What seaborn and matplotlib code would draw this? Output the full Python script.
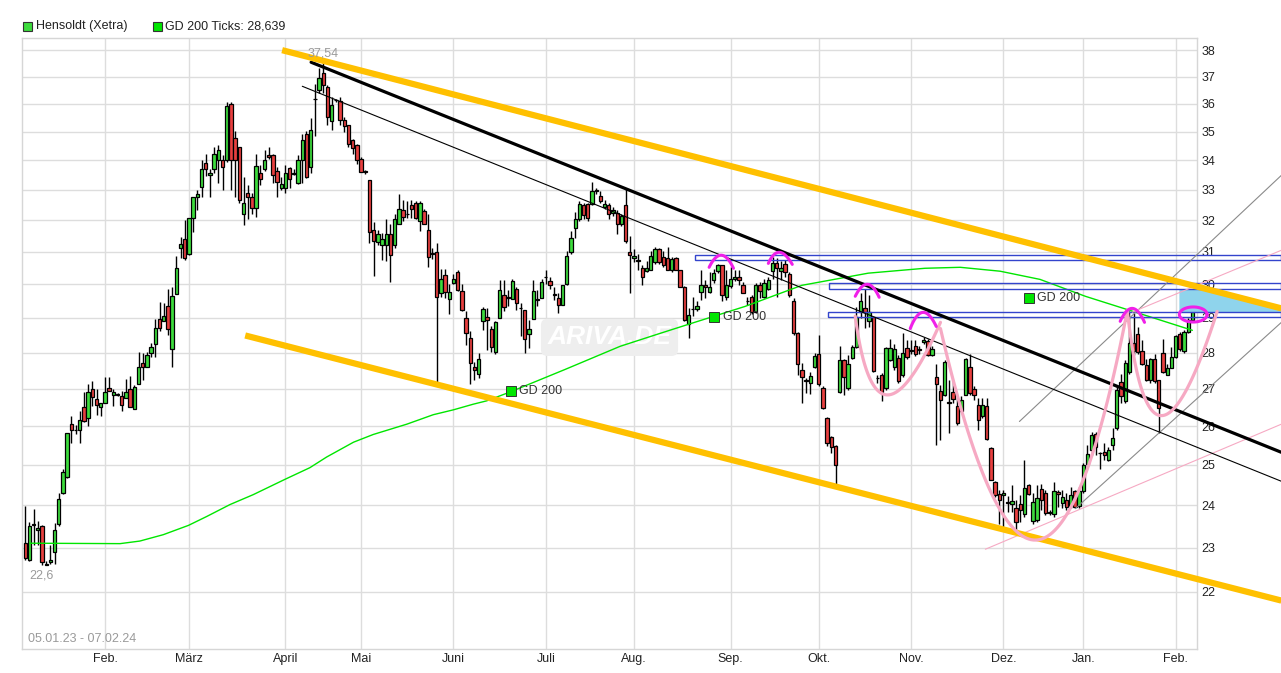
import numpy as np
import pandas as pd
import matplotlib
matplotlib.use("Agg")
import matplotlib.pyplot as plt
import seaborn as sns
from matplotlib.patches import Rectangle

# daily candles Hensoldt (Xetra), 05.01.23 - 07.02.24
opens = [
    23.10, 22.71, 23.55, 23.42, 23.50, 22.63, 22.66, 22.90, 23.55, 24.30,
    24.70, 26.06, 25.90, 25.91, 26.50, 26.22, 27.00, 26.71, 26.50, 26.61,
    27.03, 26.83, 26.84, 26.80, 26.74, 27.00, 26.45, 27.14, 27.70, 27.59,
    28.00, 28.24, 28.98, 28.91, 29.34, 28.10, 29.72, 31.12, 31.40, 30.92,
    32.09, 32.77, 33.09, 33.92, 33.49, 33.69, 34.00, 34.00, 34.00, 36.00,
    34.77, 34.46, 32.20, 32.89, 32.78, 32.39, 33.56, 33.69, 34.17, 34.17,
    33.64, 33.06, 33.08, 33.74, 33.54, 33.22, 34.00, 34.92, 33.76, 36.18,
    36.50, 37.13, 36.62, 35.37, 36.12, 36.11, 35.43, 35.22, 34.69, 34.54,
    34.06, 33.62, 33.33, 31.70, 31.30, 31.20, 31.20, 31.57, 31.20, 31.87,
    32.33, 32.22, 32.50, 32.56, 31.98, 32.30, 31.68, 30.95, 31.00, 29.73,
    30.28, 29.55, 30.04, 30.39, 29.80, 29.00, 28.42, 27.59, 27.40, 28.91,
    29.02, 28.68, 28.03, 29.00, 29.68, 29.61, 29.55, 29.87, 29.30, 29.24,
    28.53, 28.97, 29.56, 29.60, 30.23, 30.09, 29.71, 29.58, 29.39, 30.00,
    30.98, 31.77, 32.03, 32.50, 32.52, 32.53, 32.98, 32.81, 32.44, 32.50,
    32.23, 32.23, 31.87, 32.50, 31.01, 30.81, 30.74, 30.50, 30.40, 30.43,
    30.68, 31.10, 30.85, 30.80, 30.43, 30.81, 30.43, 29.93, 28.83, 29.25,
    29.27, 29.78, 29.98, 29.78, 30.13, 30.41, 30.58, 29.61, 29.95, 30.16,
    30.23, 29.98, 29.50, 29.61, 29.17, 29.99, 29.61, 29.87, 30.41, 30.66,
    30.41, 30.61, 30.31, 29.50, 28.55, 27.51, 27.23, 27.15, 27.59, 27.96,
    27.02, 26.21, 25.71, 25.49, 26.91, 27.80, 27.02, 27.86, 28.16, 29.16,
    29.28, 28.92, 29.02, 27.30, 27.38, 27.02, 27.78, 27.59, 27.86, 27.38,
    28.14, 28.07, 28.19, 28.09, 28.30, 28.32, 27.94, 27.32, 26.93, 26.84,
    26.64, 26.91, 26.52, 26.41, 26.84, 27.59, 26.99, 26.57, 26.27, 26.52,
    25.43, 24.58, 24.28, 24.25, 24.07, 24.04, 23.93, 24.04, 23.80, 24.50,
    23.63, 23.65, 24.39, 24.31, 23.83, 23.80, 24.33, 24.06, 24.13, 23.99,
    24.34, 23.99, 24.34, 25.02, 25.37, 25.80, 25.31, 25.34, 25.13, 25.51,
    25.94, 27.17, 26.66, 27.46, 28.27, 28.52, 28.06, 27.64, 27.24, 27.82,
    27.24, 27.99, 27.38, 27.56, 27.87, 28.53, 28.05, 28.60, 28.95,
]
highs = [
    23.98, 23.60, 23.90, 23.62, 23.54, 22.70, 23.06, 23.58, 24.30, 24.89,
    25.83, 26.26, 26.04, 26.39, 26.91, 27.14, 27.20, 27.00, 26.61, 27.33,
    27.33, 27.00, 26.88, 26.95, 27.27, 27.35, 27.10, 28.03, 28.00, 28.03,
    28.27, 28.96, 29.48, 29.45, 29.85, 29.91, 30.88, 31.48, 32.02, 32.09,
    32.75, 33.00, 34.02, 34.23, 33.72, 34.46, 34.52, 34.17, 36.05, 36.08,
    35.04, 34.46, 33.44, 33.17, 32.89, 34.23, 33.83, 34.34, 34.46, 34.23,
    33.78, 33.44, 33.83, 33.78, 33.72, 34.17, 34.92, 35.04, 35.47, 36.74,
    37.33, 37.54, 36.68, 36.26, 36.18, 36.26, 35.53, 35.22, 34.75, 34.57,
    34.11, 33.66, 33.33, 31.95, 31.70, 31.60, 32.03, 31.87, 32.21, 32.87,
    32.67, 32.62, 32.65, 32.62, 32.62, 32.38, 32.21, 31.13, 31.29, 30.47,
    30.47, 30.02, 30.32, 30.44, 30.02, 29.19, 28.61, 27.75, 27.98, 29.31,
    29.29, 28.76, 28.90, 30.14, 30.14, 29.83, 30.17, 29.92, 29.44, 29.24,
    28.95, 30.12, 29.83, 30.17, 30.44, 30.22, 29.92, 29.73, 29.99, 31.03,
    31.66, 32.27, 32.62, 32.56, 32.56, 33.26, 33.05, 32.97, 32.67, 32.56,
    32.44, 32.33, 32.21, 33.02, 31.51, 31.08, 30.93, 30.58, 30.73, 31.03,
    31.14, 31.12, 31.03, 31.14, 30.83, 30.83, 30.45, 29.95, 29.29, 29.63,
    29.49, 30.43, 30.13, 30.38, 30.48, 30.63, 30.60, 30.43, 30.53, 30.43,
    30.43, 30.08, 29.63, 29.68, 30.04, 30.07, 30.17, 30.22, 30.85, 30.80,
    30.71, 30.76, 30.39, 29.58, 28.58, 27.72, 27.29, 27.47, 28.00, 28.50,
    27.06, 26.23, 25.73, 25.51, 28.19, 27.83, 27.92, 28.21, 29.33, 29.73,
    29.87, 29.68, 29.04, 27.38, 27.42, 28.16, 28.40, 28.25, 27.92, 28.55,
    28.35, 28.35, 28.35, 28.20, 28.45, 28.40, 28.20, 27.69, 27.11, 27.78,
    27.24, 27.24, 26.75, 26.79, 27.86, 27.95, 27.06, 26.75, 26.75, 26.75,
    25.45, 24.60, 24.38, 24.38, 24.23, 24.50, 24.13, 24.25, 25.13, 24.53,
    24.29, 24.50, 24.53, 24.38, 23.88, 24.58, 24.38, 24.38, 24.29, 24.46,
    24.38, 24.46, 25.04, 25.51, 25.85, 25.85, 25.34, 25.55, 25.45, 25.94,
    27.06, 27.39, 27.78, 29.20, 29.13, 28.73, 28.35, 27.82, 27.85, 27.96,
    27.24, 28.40, 27.69, 28.16, 28.50, 28.60, 28.65, 29.00, 29.52,
]
lows = [
    22.71, 22.70, 23.06, 23.06, 22.60, 22.60, 22.62, 22.62, 23.50, 24.27,
    24.68, 25.57, 25.79, 25.57, 26.10, 26.00, 26.52, 26.30, 26.26, 26.61,
    26.93, 26.52, 26.80, 26.39, 26.74, 26.50, 26.45, 27.14, 27.25, 27.59,
    27.89, 27.89, 28.62, 28.91, 28.49, 27.59, 29.72, 30.81, 30.76, 30.90,
    31.64, 32.33, 32.77, 33.48, 32.78, 33.56, 33.22, 33.00, 33.95, 33.00,
    32.78, 32.56, 31.85, 32.06, 32.22, 32.11, 33.17, 33.65, 34.05, 33.22,
    32.78, 33.00, 32.89, 33.06, 33.50, 33.20, 33.22, 33.40, 33.56, 34.85,
    36.38, 36.38, 35.22, 35.07, 36.05, 35.22, 34.98, 34.46, 34.23, 33.89,
    33.61, 33.55, 31.28, 30.25, 31.20, 30.75, 30.72, 30.07, 31.13, 31.87,
    31.98, 32.09, 32.09, 32.04, 31.66, 31.87, 30.52, 30.77, 27.19, 29.63,
    29.58, 29.10, 30.00, 29.80, 29.19, 28.22, 27.14, 27.23, 27.28, 28.66,
    28.08, 28.03, 27.96, 29.00, 29.19, 29.34, 29.55, 29.24, 28.47, 28.00,
    28.13, 28.97, 29.34, 29.60, 30.02, 29.87, 29.53, 29.15, 29.39, 29.98,
    30.93, 31.45, 31.98, 32.03, 31.98, 32.50, 32.85, 32.56, 32.38, 32.03,
    32.15, 31.56, 31.82, 31.29, 29.74, 30.68, 30.43, 29.98, 30.38, 30.43,
    30.63, 30.63, 30.53, 30.43, 30.38, 30.43, 29.93, 28.90, 28.43, 29.05,
    29.20, 29.53, 29.59, 29.75, 30.03, 30.33, 29.49, 29.54, 29.88, 30.10,
    29.98, 29.73, 29.38, 29.12, 29.15, 29.58, 29.58, 29.82, 30.17, 29.63,
    30.12, 30.22, 29.63, 28.50, 27.38, 26.61, 26.88, 26.86, 27.56, 27.06,
    26.46, 25.47, 25.30, 24.50, 26.88, 26.84, 26.97, 27.83, 28.14, 28.99,
    28.70, 28.73, 27.47, 27.15, 26.66, 26.97, 27.77, 27.51, 27.15, 27.33,
    27.83, 27.96, 27.90, 27.95, 28.25, 27.90, 27.90, 25.51, 25.64, 26.79,
    25.81, 26.61, 26.03, 26.36, 26.84, 26.84, 26.70, 25.90, 26.20, 25.64,
    24.61, 24.21, 23.55, 23.47, 23.85, 23.85, 23.35, 23.60, 23.72, 24.25,
    23.55, 23.60, 23.88, 23.77, 23.77, 23.72, 23.97, 23.93, 23.88, 23.93,
    23.93, 23.93, 24.29, 24.96, 25.26, 25.26, 24.90, 25.13, 25.10, 25.38,
    25.90, 26.61, 26.60, 27.41, 27.92, 27.96, 27.64, 27.20, 27.15, 27.15,
    25.83, 27.44, 27.38, 27.56, 27.85, 28.06, 27.98, 28.55, 28.90,
]
closes = [
    22.75, 23.50, 23.53, 23.46, 22.67, 22.60, 22.71, 23.42, 24.15, 24.81,
    25.83, 25.89, 25.89, 26.17, 26.13, 26.90, 26.78, 26.56, 26.61, 26.90,
    26.95, 26.92, 26.85, 26.56, 26.90, 26.50, 27.05, 27.59, 27.59, 27.93,
    28.15, 28.70, 28.71, 29.06, 28.67, 29.64, 30.49, 31.25, 30.81, 32.09,
    32.75, 32.85, 33.69, 33.71, 33.58, 34.23, 34.37, 33.78, 35.90, 34.00,
    34.00, 32.67, 32.58, 32.76, 32.39, 33.81, 33.36, 34.02, 34.11, 33.50,
    33.26, 33.19, 33.58, 33.37, 33.56, 34.00, 34.71, 33.44, 35.06, 36.16,
    36.95, 36.68, 35.53, 35.96, 36.14, 35.43, 35.19, 34.57, 34.44, 34.00,
    33.61, 33.60, 31.64, 31.35, 31.55, 31.40, 31.57, 30.90, 32.03, 32.38,
    32.12, 32.20, 32.38, 32.07, 32.58, 31.87, 30.84, 30.93, 29.61, 30.17,
    29.78, 29.78, 30.16, 29.83, 29.24, 28.56, 27.72, 27.51, 27.81, 29.27,
    28.95, 28.16, 28.88, 29.83, 29.32, 29.60, 30.09, 29.44, 29.28, 28.39,
    28.68, 29.80, 29.54, 30.07, 30.21, 29.99, 29.69, 29.39, 29.99, 30.88,
    31.45, 32.03, 32.52, 32.17, 32.07, 32.97, 32.99, 32.64, 32.53, 32.21,
    32.35, 31.87, 32.13, 31.35, 30.90, 30.88, 30.72, 30.21, 30.51, 30.88,
    31.08, 30.68, 30.58, 30.43, 30.78, 30.43, 29.93, 28.95, 29.08, 29.27,
    29.34, 29.98, 29.91, 29.93, 30.33, 30.58, 29.69, 29.98, 30.15, 30.23,
    30.13, 29.75, 29.49, 29.17, 29.99, 29.80, 30.05, 30.14, 30.66, 30.51,
    30.51, 30.39, 29.68, 28.55, 27.67, 27.32, 27.21, 27.35, 27.90, 27.14,
    26.48, 25.56, 25.45, 24.99, 27.78, 27.31, 27.69, 28.16, 29.02, 29.50,
    29.16, 29.16, 27.49, 27.28, 26.91, 28.14, 28.14, 28.11, 27.20, 27.99,
    27.87, 28.05, 27.96, 28.07, 28.35, 27.94, 28.10, 27.13, 26.69, 27.74,
    26.62, 26.73, 26.07, 26.70, 27.83, 26.88, 26.84, 26.16, 26.55, 25.66,
    24.63, 24.25, 24.13, 24.29, 24.05, 24.11, 23.60, 23.88, 24.42, 24.28,
    24.08, 24.17, 24.14, 23.82, 23.82, 24.36, 24.28, 24.20, 23.95, 24.24,
    23.97, 24.34, 25.00, 25.27, 25.77, 25.45, 25.30, 25.26, 25.37, 25.68,
    26.97, 26.79, 27.71, 28.27, 28.06, 28.01, 27.69, 27.24, 27.82, 27.20,
    26.47, 27.47, 27.56, 27.87, 28.48, 28.11, 28.60, 28.95, 29.16,
]

# 200-day average, read at points along the curve (trading-day index, value)
gd_idx = [1.1, 22.6, 27.3, 32.9, 38.9, 43.2, 48.8, 54.3, 61.9, 67.8,
          71.8, 78.2, 82.9, 90.9, 97.2, 102.0, 106.7, 109.9, 115.5, 128.6,
          141.7, 151.2, 157.9, 171.5, 185.0, 200.8, 214.3, 222.7, 232.2, 241.7,
          252.5, 264.4, 278.0]
gd_val = [23.10, 23.09, 23.15, 23.30, 23.52, 23.73, 24.02, 24.26, 24.64, 24.93,
          25.20, 25.58, 25.78, 26.05, 26.30, 26.43, 26.58, 26.67, 26.91, 27.53,
          28.18, 28.55, 28.81, 29.34, 29.97, 30.34, 30.49, 30.52, 30.40, 30.15,
          29.64, 29.17, 28.639]
gd_label_idx = [115.6, 164.1, 239.1]
gd_label_val = [26.93, 29.02, 29.58]

holidays = ["2023-04-07", "2023-04-10", "2023-05-01", "2023-12-25", "2023-12-26", "2024-01-01"]
month_names = ["Feb.", "März", "April", "Mai", "Juni", "Juli", "Aug.", "Sep.",
               "Okt.", "Nov.", "Dez.", "Jan.", "Feb."]
price_ticks = list(range(22, 39))

# drawn analysis: lines as (index, price) end points
upper_chan = ([61.2, 299.2], [38.0, 29.28])
lower_chan = ([52.4, 299.2], [28.49, 21.80])
trend_thick = ([68.1, 299.2], [37.54, 25.32])
trend_thin = ([66.0, 299.2], [36.64, 24.59])
grey_lines = [([236.8, 299.2], [26.12, 33.49]), ([250.1, 299.2], [23.92, 28.87])]
pink_lines = [([228.7, 299.2], [22.96, 26.05]), ([263.7, 299.2], [29.17, 31.05])]
zones = [(159.6, 30.74, 30.89), (191.5, 29.85, 30.03), (191.3, 29.02, 29.17)]
zone_end = 299.2
target_fill = ([274.9, 281.6, 299.2, 299.2, 274.9], [29.85, 29.85, 29.28, 29.17, 29.17])
cups = [
    [(197.7, 29.05), (202.5, 24.86), (218.0, 28.87)],
    [(218.0, 28.69), (241.8, 18.55), (262.5, 29.22)],
    [(262.5, 29.22), (268.0, 23.64), (283.9, 29.19)],
]
caps = [
    [(162.9, 30.52), (165.8, 31.29), (168.7, 30.49)],
    [(177.0, 30.64), (179.4, 31.35), (182.7, 30.61)],
    [(197.7, 29.64), (200.6, 30.38), (203.4, 29.61)],
    [(210.8, 28.69), (213.7, 29.61), (217.0, 28.75)],
    [(260.8, 28.90), (263.7, 29.68), (266.6, 28.87)],
]
ring = (278.2, 29.10)

GREEN = "#3ddc3d"
RED = "#e8403f"
GD_GREEN = "#00e600"
ORANGE = "#ffc000"
MAGENTA = "#f020e8"
PINK = "#f6a9c3"
BLUE = "#3344cc"


def qcurve(pts, num=80):
    # quadratic bezier, straight in screen space (log price)
    t = np.linspace(0, 1, num)[:, None]
    p = np.array(pts, dtype=float)
    p[:, 1] = np.log(p[:, 1])
    b = (1 - t) ** 2 * p[0] + 2 * t * (1 - t) * p[1] + t ** 2 * p[2]
    return b[:, 0], np.exp(b[:, 1])


sns.set_style("white")
plt.rcParams["font.family"] = ["Liberation Sans", "DejaVu Sans"]

dates = pd.bdate_range("2023-01-05", "2024-02-07", freq="C", holidays=holidays)
n = len(closes)
dates = dates[:n]
x = np.arange(n)
o = np.array(opens)
h = np.array(highs)
lo = np.array(lows)
c = np.array(closes)

pos = pd.Series(np.arange(len(dates)), index=dates)
month_pos = pos.groupby(dates.to_period("M")).first().values[1:]

fig = plt.figure(figsize=(12.81, 6.73), dpi=100)
ax = fig.add_axes([22 / 1281, 24 / 673, 1175 / 1281, 611 / 673])
ax.set_yscale("log")

# watermark
ax.text(0.5, 0.51, "ARIVA.DE", transform=ax.transAxes, ha="center", va="center",
        fontsize=19, fontweight="bold", style="italic", color="white", zorder=1,
        bbox=dict(boxstyle="round,pad=0.25", fc="#eeeeee", ec="none"))

# candles
ax.vlines(x, lo, h, color="black", linewidth=1.0, zorder=3)
body_col = np.where(c >= o, GREEN, RED)
ax.bar(x, np.abs(c - o), bottom=np.minimum(o, c), width=0.8, color=body_col,
       edgecolor="black", linewidth=0.9, zorder=4)

# GD 200
sns.lineplot(x=gd_idx, y=gd_val, ax=ax, color=GD_GREEN, linewidth=1.0, zorder=5)
for gx, gy in zip(gd_label_idx, gd_label_val):
    ax.plot(gx, gy, marker="s", ms=7, mfc=GD_GREEN, mec="#333333", mew=0.7, zorder=9)
    ax.annotate("GD 200", (gx, gy), xytext=(6, 0), textcoords="offset points",
                va="center", ha="left", fontsize=9, color="#333333", zorder=9)

# zones and target area
ax.fill(target_fill[0], target_fill[1], color="#8fd4ec", lw=0, zorder=5, clip_on=False)
for x0, y0, y1 in zones:
    ax.add_patch(Rectangle((x0, y0), zone_end - x0, y1 - y0, fill=False, ec=BLUE,
                           lw=1.0, zorder=6, clip_on=False))

# trend lines
for xs, ys in grey_lines:
    ax.plot(xs, ys, color="#8a8a8a", lw=0.8, zorder=6, clip_on=False)
for xs, ys in pink_lines:
    ax.plot(xs, ys, color=PINK, lw=0.8, zorder=6, clip_on=False)
ax.plot(*trend_thin, color="black", lw=0.8, zorder=7, clip_on=False)
ax.plot(*trend_thick, color="black", lw=2.3, zorder=7, clip_on=False)
ax.plot(*upper_chan, color=ORANGE, lw=4.5, zorder=7, clip_on=False, solid_capstyle="butt")
ax.plot(*lower_chan, color=ORANGE, lw=4.5, zorder=7, clip_on=False, solid_capstyle="butt")

for cup in cups:
    cx, cy = qcurve(cup)
    ax.plot(cx, cy, color=PINK, lw=2.3, zorder=7, clip_on=False)
for cap in caps:
    cx, cy = qcurve(cap, 30)
    ax.plot(cx, cy, color=MAGENTA, lw=2.2, zorder=8)
t = np.linspace(0, 2 * np.pi, 100)
ax.plot(ring[0] + 3.3 * np.cos(t), ring[1] * np.exp(0.0076 * np.sin(t)),
        color=MAGENTA, lw=2.2, zorder=8, clip_on=False)

# high / low marks
imax = int(np.argmax(h))
imin = int(np.argmin(lo))
ax.annotate(f"{h[imax]:g}".replace(".", ","), (imax, h[imax]), xytext=(0, 2),
            textcoords="offset points", ha="center", va="bottom", fontsize=9,
            color="#9a9a9a", zorder=9)
ax.annotate(f"{lo[imin]:g}".replace(".", ","), (imin, lo[imin]), xytext=(0, -3),
            textcoords="offset points", ha="center", va="top", fontsize=9,
            color="#9a9a9a", zorder=9)
ax.text(0.005, 0.017, f"{dates[0]:%d.%m.%y} - {dates[-1]:%d.%m.%y}",
        transform=ax.transAxes, fontsize=9, color="#9a9a9a", va="center")

# axes
ax.set_xlim(-0.76, 279.1)
ax.set_ylim(20.76, 38.47)
ax.set_yticks(price_ticks)
ax.set_yticklabels([str(p) for p in price_ticks])
ax.minorticks_off()
ax.yaxis.tick_right()
ax.set_xticks(month_pos)
ax.set_xticklabels(month_names[:len(month_pos)])
ax.tick_params(axis="both", length=0, labelsize=9, colors="#222222")
ax.tick_params(axis="x", pad=3)
ax.tick_params(axis="y", pad=3)
ax.set_xlabel("")
ax.set_ylabel("")
ax.grid(True, color="#dddddd", linewidth=1.0)
ax.set_axisbelow(True)
for sp in ax.spines.values():
    sp.set_color("#d6d6d6")
    sp.set_linewidth(1.0)

# legend on top
fig.add_artist(Rectangle((23 / 1281, 1 - 31 / 673), 9 / 1281, 9 / 673, transform=fig.transFigure,
                         fc=GREEN, ec="#333333", lw=0.8))
fig.text(36 / 1281, 1 - 26.5 / 673, "Hensoldt (Xetra)", va="center", fontsize=9, color="#222222")
fig.add_artist(Rectangle((153 / 1281, 1 - 31 / 673), 9 / 1281, 9 / 673, transform=fig.transFigure,
                         fc=GD_GREEN, ec="#333333", lw=0.8))
fig.text(165 / 1281, 1 - 26.5 / 673, f"GD 200 Ticks: {gd_val[-1]:.3f}".replace(".", ","),
         va="center", fontsize=9, color="#222222")

fig.savefig("out.png", dpi=100)
